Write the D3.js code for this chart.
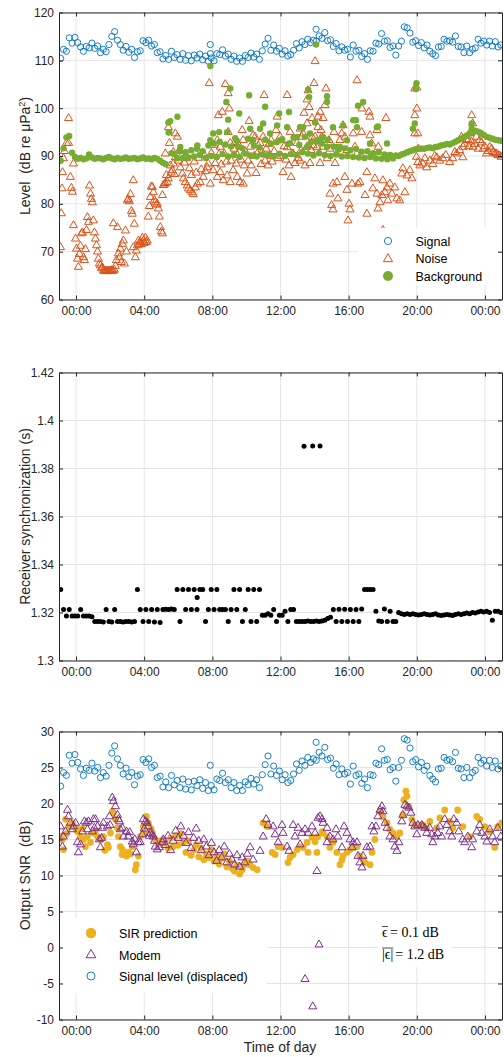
<!DOCTYPE html>
<html><head><meta charset="utf-8">
<script src="https://cdn.jsdelivr.net/npm/d3@7"></script>
<style>
body{margin:0;background:#fff;}
</style>
</head><body>
<svg id="c" width="504" height="1057"></svg>
<script>
// ---------------- DATA ----------------
const timeTicks = [0, 4, 8, 12, 16, 20, 24];
const timeLabels = ["00:00", "04:00", "08:00", "12:00", "16:00", "20:00", "00:00"];
const levelTicks = [60, 70, 80, 90, 100, 110, 120];
const syncTicks = [1.3, 1.32, 1.34, 1.36, 1.38, 1.4, 1.42];
const syncTickLabels = ["1.3", "1.32", "1.34", "1.36", "1.38", "1.4", "1.42"];
const snrTicks = [-10, -5, 0, 5, 10, 15, 20, 25, 30];

// regular sampling grid (hours relative to midnight), every 10 min
const sampleStart = -0.9, sampleStep = 1 / 6, sampleCount = 156;

// Signal level (dB re uPa^2)
const signal = [
110.4,112.3,111.9,114.7,113.6,114.8,113.7,112.8,111.9,112.9,
112.6,113.6,112.5,113.0,111.6,112.3,111.8,113.3,115.0,116.0,
114.2,113.3,112.1,112.9,111.7,112.3,110.6,111.8,112.0,114.1,
113.7,114.2,113.0,113.3,111.6,111.8,110.3,111.0,110.2,111.9,
110.6,111.2,110.2,111.4,110.0,111.0,109.9,111.1,110.5,111.3,
110.1,110.9,109.8,110.5,109.9,111.4,111.2,112.2,110.9,111.3,
110.2,110.9,109.8,110.5,109.8,111.0,110.6,111.5,110.7,111.3,
110.2,112.0,113.4,114.6,112.1,113.2,111.9,112.5,111.3,112.0,
110.9,111.2,112.1,113.5,112.6,113.9,113.3,114.4,113.7,114.2,
114.0,115.1,114.6,115.8,114.1,114.3,112.9,113.5,112.0,112.8,
112.1,112.3,110.7,113.2,111.9,112.1,110.8,111.4,110.2,112.0,
111.9,113.6,113.4,115.6,114.0,114.1,112.7,113.0,111.1,113.0,
114.0,117.0,116.8,115.7,113.8,114.1,113.1,113.7,112.6,113.2,
111.9,111.4,111.0,112.8,112.9,114.4,114.0,114.1,113.8,115.1,
112.9,112.8,111.6,113.0,111.6,112.3,112.6,114.4,113.6,114.0,
113.2,114.0,113.0,113.9,112.8,113.2];
const signalExtra = [[7.88,113.3],[7.88,111.4],[14.09,116.5]];

// Background level
const background = [
89.0,91.6,93.9,94.2,90.7,89.8,89.4,89.6,89.3,89.5,
90.3,89.7,89.4,89.6,89.5,89.3,89.6,89.8,89.5,89.3,
89.6,89.4,89.5,89.7,89.4,89.5,89.6,89.3,89.5,89.7,
89.4,89.5,89.3,89.6,89.4,89.0,88.6,88.3,94.9,90.6,
90.4,89.5,91.0,89.6,90.8,89.7,91.2,89.9,91.5,90.2,
91.0,89.6,92.2,90.0,92.6,89.8,93.0,90.4,92.4,89.9,
92.0,90.3,93.2,89.8,91.6,90.5,93.6,90.1,92.2,89.9,
91.8,90.3,93.4,90.2,92.6,89.9,92.9,90.5,93.5,90.0,
92.5,90.4,93.8,90.2,92.3,90.8,94.0,90.5,92.8,90.1,
93.0,90.6,92.6,90.2,93.4,90.0,92.0,90.3,91.4,89.9,
91.6,90.0,91.2,89.8,91.5,89.7,90.9,89.6,91.0,89.8,
90.6,89.5,90.8,89.4,90.3,89.3,90.2,89.5,90.1,90.0,
90.3,90.5,90.8,91.0,91.2,91.4,91.5,91.6,91.5,91.7,
91.8,91.6,91.9,92.0,92.2,92.3,92.5,92.4,92.7,93.0,
93.3,93.6,94.0,94.3,94.7,95.0,95.3,95.1,94.8,94.4,
94.0,93.8,93.6,93.4,93.3,93.2];
const backgroundExtra = [
[5.42,97.0],[5.53,97.3],[5.95,98.2],[5.48,95.0],[6.12,91.9],[7.12,92.2],[7.88,108.8],[7.88,93.3],
[8.05,94.7],[8.40,95.0],[8.82,101.3],[8.87,95.0],[8.93,97.6],[9.05,104.1],[9.34,93.7],[9.52,91.9],
[9.58,98.9],[10.16,102.7],[10.22,95.7],[10.39,93.3],[10.80,95.7],[10.98,96.8],[11.10,100.3],[11.39,94.7],
[11.80,96.4],[11.92,98.9],[11.98,93.3],[12.39,96.0],[12.50,99.2],[12.56,92.7],[12.97,94.0],[13.15,96.0],
[13.33,96.0],[13.56,91.9],[13.62,103.9],[13.68,102.3],[13.73,94.7],[14.03,97.0],[14.09,113.3],[14.14,93.3],
[14.32,93.3],[14.50,94.0],[14.73,102.5],[14.73,101.3],[14.73,91.9],[15.08,96.0],[15.31,91.9],[15.49,91.9],
[15.67,96.4],[15.90,93.3],[16.27,97.5],[16.43,97.5],[16.49,96.0],[16.55,100.5],[16.85,101.3],[17.25,92.6],
[17.66,96.0],[17.72,96.2],[18.25,92.6],[19.77,95.7],[19.88,96.8],[19.95,104.0],[19.98,105.2],[23.22,96.8],[23.22,95.7]];

// Noise level [hour, dB]
const noise = [
[-0.91,70.9],[-0.87,78.0],[-0.82,83.2],[-0.79,86.6],[-0.74,89.5],[-0.68,91.0],[-0.56,92.7],[-0.44,97.9],[-0.44,92.7],[-0.33,85.6],
[-0.27,83.3],[-0.21,82.5],[-0.15,88.4],[-0.15,75.5],[-0.03,72.7],[0.03,70.6],[0.08,68.5],[0.14,66.8],[0.20,69.5],[0.26,71.2],
[0.32,73.8],[0.38,74.0],[0.44,68.8],[0.49,68.2],[0.55,70.5],[0.61,74.5],[0.67,77.2],[0.73,76.2],[0.79,83.8],[0.85,82.1],
[0.90,81.0],[0.96,80.3],[1.02,76.5],[1.08,74.0],[1.14,72.7],[1.20,71.3],[1.26,70.0],[1.31,68.5],[1.37,67.5],[1.43,67.1],
[1.49,66.5],[1.55,66.7],[1.61,66.0],[1.67,66.0],[1.72,65.9],[1.78,66.0],[1.84,66.0],[1.90,65.9],[1.96,66.0],[2.02,66.0],
[2.08,66.1],[2.13,66.0],[2.19,75.9],[2.19,66.0],[2.25,66.2],[2.31,67.0],[2.37,68.2],[2.43,75.1],[2.49,69.6],[2.55,68.8],
[2.60,70.6],[2.66,67.8],[2.72,71.6],[2.78,72.3],[2.84,67.5],[2.90,74.4],[2.96,70.0],[3.01,80.7],[3.07,81.0],[3.13,80.5],
[3.19,82.0],[3.25,78.5],[3.30,77.9],[3.36,84.9],[3.36,70.9],[3.42,75.8],[3.48,68.8],[3.54,70.2],[3.60,71.3],[3.66,72.3],
[3.72,71.6],[3.77,72.0],[3.83,71.5],[3.89,72.9],[3.95,72.3],[4.01,71.8],[4.07,72.9],[4.13,72.0],[4.18,72.3],[4.24,77.3],
[4.30,79.5],[4.36,81.4],[4.42,83.6],[4.48,83.5],[4.54,82.4],[4.60,80.8],[4.65,80.3],[4.71,79.8],[4.77,80.0],[4.83,79.0],
[4.89,77.3],[4.95,75.1],[5.01,74.2],[5.07,73.8],[5.07,81.8],[5.12,83.9],
[5.18,84.0],[5.24,84.3],[5.24,90.5],[5.30,86.0],[5.36,84.5],[5.42,85.3],[5.42,96.0],[5.48,92.7],[5.53,88.0],[5.59,86.5],
[5.65,87.0],[5.71,88.4],[5.71,90.8],[5.77,86.2],[5.83,89.7],[5.83,94.7],[5.95,94.0],[6.00,89.0],[6.06,91.2],[6.12,87.6],
[6.18,90.0],[6.24,86.3],[6.30,85.3],[6.36,88.6],[6.41,84.5],[6.47,89.5],[6.53,83.8],[6.59,83.2],[6.65,87.4],[6.71,82.8],
[6.77,86.0],[6.82,82.4],[6.88,82.0],[6.94,88.8],[7.00,83.4],[7.06,86.5],[7.12,84.2],[7.18,89.6],[7.29,84.5],[7.35,87.2],
[7.47,85.6],[7.53,90.2],[7.59,86.8],[7.70,87.6],[7.76,88.4],[7.82,105.2],[7.88,84.2],[7.94,90.6],[8.05,87.0],[8.11,92.3],
[8.17,88.5],[8.29,85.6],[8.29,93.3],[8.35,98.5],[8.40,90.4],[8.46,86.6],[8.46,91.9],[8.52,88.2],[8.58,99.2],[8.64,84.9],
[8.70,90.5],[8.76,105.0],[8.82,88.8],[8.87,85.9],[8.93,103.1],[8.93,95.0],[8.99,99.9],[9.05,84.5],[9.05,92.7],[9.11,89.0],
[9.22,87.0],[9.28,91.5],[9.34,92.9],[9.40,88.4],[9.46,85.6],[9.46,90.2],[9.52,92.5],[9.63,84.5],[9.69,89.2],[9.75,95.4],
[9.81,84.2],[9.81,93.3],[9.87,88.0],[9.93,91.0],[10.04,86.3],[10.10,89.0],
[10.16,97.3],[10.22,91.9],[10.28,88.0],[10.39,94.3],[10.45,90.0],[10.51,94.0],[10.57,86.4],[10.63,90.5],[10.69,92.2],[10.80,92.7],
[10.86,88.3],[10.92,90.8],[10.98,94.0],[11.04,102.7],[11.10,89.0],[11.16,91.5],[11.27,88.0],[11.33,92.5],[11.39,90.0],[11.45,93.3],
[11.51,88.8],[11.63,91.0],[11.74,95.4],[11.80,98.2],[11.86,89.5],[11.98,94.0],[12.04,90.0],[12.15,86.6],[12.21,92.0],[12.33,89.2],
[12.39,102.7],[12.39,91.8],[12.50,88.0],[12.56,95.0],[12.62,85.6],[12.68,90.5],[12.74,90.5],[12.85,88.5],[12.97,92.7],[13.03,89.5],
[13.15,95.7],[13.15,89.0],[13.21,91.2],[13.25,94.0],[13.33,94.7],[13.38,99.0],[13.44,88.0],[13.54,91.9],[13.56,96.8],[13.56,101.8],
[13.62,103.7],[13.68,100.2],[13.73,88.5],[13.79,91.2],[13.85,97.9],[13.85,94.0],[13.93,92.2],[13.97,105.2],[14.03,109.8],[14.03,94.0],
[14.14,91.8],[14.20,96.0],[14.20,98.2],[14.32,99.2],[14.32,88.5],[14.38,95.4],[14.42,94.0],[14.50,97.9],[14.51,91.9],[14.56,92.7],
[14.61,100.6],[14.67,104.1],[14.73,89.5],[14.85,93.3],[14.90,91.5],
[14.90,82.1],[15.00,79.7],[15.08,78.8],[15.08,84.2],[15.14,95.0],[15.20,88.5],[15.29,90.5],[15.31,84.5],[15.37,81.1],[15.49,93.3],
[15.59,94.7],[15.67,96.4],[15.78,85.6],[15.78,94.0],[15.90,82.9],[15.90,91.2],[15.96,76.5],[16.02,80.0],[16.08,78.8],[16.20,84.2],
[16.27,94.7],[16.37,91.9],[16.47,90.4],[16.49,105.8],[16.55,84.2],[16.66,84.5],[16.76,95.0],[16.78,99.9],[16.96,81.8],[17.07,77.9],
[17.07,86.6],[17.19,99.2],[17.25,98.2],[17.25,94.3],[17.35,92.6],[17.42,83.2],[17.54,85.3],[17.66,82.1],[17.66,95.4],[17.72,79.0],
[17.74,91.9],[17.84,80.3],[17.95,81.8],[18.01,84.9],[18.01,74.5],[18.13,82.4],[18.19,97.9],[18.23,89.8],[18.25,83.4],[18.30,80.7],
[18.42,84.2],[18.54,82.1],[18.71,83.4],[18.83,81.1],[19.00,80.7],[19.12,86.3],[19.18,87.4],[19.30,82.4],[19.42,85.9],[19.59,87.0],
[19.71,85.3],[19.88,104.1],[19.88,98.5],[19.88,94.7],[19.98,89.8],[20.00,104.3],[20.00,99.9],[20.06,94.7],[20.08,91.5],
[20.06,88.7],[20.18,88.0],[20.35,88.4],[20.47,89.5],[20.58,87.6],[20.76,89.0],[20.94,88.3],[21.05,90.0],[21.17,89.7],[21.35,89.0],
[21.52,89.5],[21.70,90.2],[21.93,88.7],[22.11,89.5],[22.23,90.8],[22.34,90.5],[22.52,91.2],[22.62,94.0],[22.70,89.7],[22.72,91.9],
[22.80,92.5],[22.90,93.5],[23.01,93.3],[23.05,92.0],[23.11,94.7],[23.20,93.0],[23.22,98.5],[23.28,96.8],[23.30,91.9],[23.40,92.5],
[23.50,94.0],[23.60,91.5],[23.69,93.3],[23.80,92.8],[23.89,91.5],[23.99,92.0],[24.08,90.5],[24.20,91.0],[24.28,91.9],[24.40,91.5],
[24.47,90.8],[24.60,90.5],[24.69,90.5],[24.75,90.2],[24.86,90.1],[24.95,89.8]];

// Receiver synchronization (s)
const sync = [
1.3296,1.3212,1.3185,1.3212,1.3185,1.3185,1.3185,1.3212,1.3185,1.3185,
1.3185,1.3182,1.3162,1.3162,1.3162,1.3160,1.3212,1.3162,1.3160,1.3212,
1.3162,1.3162,1.3160,1.3162,1.3162,1.3160,1.3162,1.3296,1.3212,1.3162,
1.3212,1.3162,1.3212,1.3160,1.3212,1.3158,1.3212,1.3214,1.3212,1.3215,
1.3212,1.3296,1.3162,1.3296,1.3212,1.3296,1.3212,1.3296,1.3212,1.3296,
1.3296,1.3162,1.3212,1.3296,1.3212,1.3296,1.3212,1.3212,1.3212,1.3162,
1.3212,1.3296,1.3212,1.3296,1.3162,1.3212,1.3296,1.3162,1.3296,1.3162,
1.3296,1.3189,1.3189,1.3195,1.3189,1.3212,1.3162,1.3189,1.3189,1.3205,
1.3162,1.3212,1.3212,1.3162,1.3162,1.3162,1.3162,1.3165,1.3162,1.3162,
1.3165,1.3162,1.3165,1.3168,1.3175,1.3180,1.3212,1.3162,1.3214,1.3162,
1.3214,1.3162,1.3212,1.3162,1.3212,1.3162,1.3215,1.3296,1.3296,1.3296,
1.3296,1.3205,1.3165,1.3162,1.3215,1.3162,1.3205,1.3162,1.3162,1.3200,
1.3195,1.3192,1.3195,1.3192,1.3195,1.3192,1.3190,1.3192,1.3195,1.3192,
1.3190,1.3192,1.3195,1.3190,1.3188,1.3190,1.3192,1.3190,1.3188,1.3192,
1.3195,1.3192,1.3195,1.3198,1.3195,1.3200,1.3198,1.3202,1.3205,1.3202,
1.3205,1.3200,1.3168,1.3205,1.3205,1.3200];
const syncExtra = [[13.38,1.3893],[13.89,1.3894],[14.32,1.3894],[7.11,1.3262]];

// Output SNR: signal level displaced (dB)
const signalDisplaced = [
22.4,24.3,23.9,26.7,25.6,26.8,25.7,24.8,23.9,24.9,
24.6,25.6,24.5,25.0,23.6,24.3,23.8,25.3,27.0,28.0,
26.2,25.3,24.1,24.9,23.7,24.3,22.6,23.8,24.0,26.1,
25.7,26.2,25.0,25.3,23.6,23.8,22.3,23.0,22.2,23.9,
22.6,23.2,22.2,23.4,22.0,23.0,21.9,23.1,22.5,23.3,
22.1,22.9,21.8,22.5,21.9,23.4,23.2,24.2,22.9,23.3,
22.2,22.9,21.8,22.5,21.8,23.0,22.6,23.5,22.7,23.3,
22.2,24.0,25.4,26.6,24.1,25.2,23.9,24.5,23.3,24.0,
22.9,23.2,24.1,25.5,24.6,25.9,25.3,26.4,25.7,26.2,
26.0,27.1,26.6,27.8,26.1,26.3,24.9,25.5,24.0,24.8,
24.1,24.3,22.7,25.2,23.9,24.1,22.8,23.4,22.2,24.0,
23.9,25.6,25.4,27.6,26.0,26.1,24.7,25.0,23.1,25.0,
26.0,29.0,28.8,27.7,25.8,26.1,25.1,25.7,24.6,25.2,
23.9,23.4,23.0,24.8,24.9,26.4,26.0,26.1,25.8,27.1,
24.9,24.8,23.6,25.0,23.6,24.3,24.6,26.4,25.6,26.0,
25.2,26.0,25.0,25.9,24.8,25.2];
const signalDisplacedExtra = [[7.88,25.3],[14.09,28.5]];

// SIR prediction [hour, dB]
const sir = [
[-0.97,15.4],[-0.80,15.0],[-0.74,13.6],[-0.62,17.8],[-0.55,15.8],[-0.44,16.8],[-0.21,17.3],[-0.03,16.6],[0.08,16.1],[0.26,15.4],
[0.35,16.5],[0.44,15.0],[0.55,14.0],[0.67,15.4],[0.85,14.6],[1.02,15.9],[1.15,16.2],[1.26,15.4],[1.43,15.0],[1.61,15.4],
[1.70,13.5],[1.84,14.3],[1.90,13.9],[2.02,15.9],[2.13,18.9],[2.19,18.7],[2.31,17.8],[2.43,16.6],[2.49,15.4],[2.60,14.0],
[2.70,12.9],[2.72,13.6],[2.84,13.2],[2.96,12.7],[3.07,13.2],[3.20,13.0],[3.30,14.0],[3.48,10.8],[3.54,11.5],[3.66,12.7],
[3.77,15.4],[3.95,16.8],[4.00,15.8],[4.13,18.2],[4.24,17.3],[4.40,16.5],[4.48,15.9],[4.65,15.0],[4.83,14.3],[4.95,14.8],
[5.12,15.0],
[5.25,14.5],[5.40,13.8],[5.55,15.2],[5.70,14.0],[5.85,15.5],[6.00,14.2],[6.15,15.8],[6.30,14.6],[6.45,13.2],[6.60,14.8],
[6.75,12.8],[6.90,13.5],[7.05,14.2],[7.20,12.6],[7.35,13.8],[7.50,12.2],[7.65,13.0],[7.80,12.5],[7.95,13.6],[8.10,12.0],
[8.25,12.8],[8.40,11.6],[8.55,12.4],[8.70,13.0],[8.85,11.2],[9.00,12.0],[9.15,11.0],[9.30,10.6],[9.45,11.4],[9.60,10.2],
[9.75,10.8],[9.90,11.5],[10.05,12.0],[10.20,11.5],
[10.39,11.1],[10.63,10.8],[10.98,17.3],[11.21,16.8],[11.51,13.2],[11.68,12.9],[11.86,14.0],[12.09,13.9],[12.44,11.8],[12.56,12.5],
[12.74,12.9],[12.97,13.6],[13.15,14.0],[13.33,13.9],[13.56,14.6],[13.62,13.2],[13.85,15.3],[14.03,14.7],[14.14,13.2],[14.20,15.4],
[14.44,16.1],[14.50,15.9],[14.73,15.4],[14.90,13.9],[15.08,14.6],[15.31,13.2],[15.49,11.5],[15.61,12.2],[15.67,12.7],[15.90,13.2],
[16.08,13.6],[16.26,13.9],[16.49,14.0],[16.66,12.7],[16.84,12.2],[16.96,11.8],[17.25,11.5],[17.37,13.2],[17.54,15.0],[17.84,18.9],
[18.01,18.2],[18.25,17.3],[18.42,16.4],[18.60,15.9],[18.83,15.4],[19.00,15.9],[19.18,18.4],[19.24,20.5],[19.36,21.7],[19.42,21.0],
[19.53,19.6],[19.71,17.8],[19.88,17.0],[20.18,17.0],[20.35,17.0],[20.58,16.6],[20.76,17.5],[21.17,16.6],[21.35,18.0],[21.64,19.1],
[21.93,17.5],[22.11,16.6],[22.40,19.1],[22.70,16.8],[23.11,15.4],[23.52,18.2],[23.69,17.8],[23.99,16.8],[24.28,16.1],[24.57,13.9],
[24.75,16.8],[24.98,17.3]];

// Modem output SNR [hour, dB]
const modem = [
[-0.91,16.8],[-0.80,14.0],[-0.74,15.4],[-0.62,16.1],[-0.50,19.1],[-0.44,18.2],[-0.33,17.3],[-0.21,16.4],[-0.15,16.8],[-0.03,17.3],
[0.08,14.6],[0.14,13.2],[0.26,14.3],[0.38,16.1],[0.49,17.5],[0.61,17.3],[0.67,16.4],[0.73,17.5],[0.96,16.1],[1.02,17.8],
[1.08,16.6],[1.14,17.8],[1.26,16.8],[1.37,15.0],[1.43,13.9],[1.50,15.2],[1.55,16.6],[1.61,17.3],[1.84,16.8],[1.96,18.2],
[2.00,17.0],[2.13,20.8],[2.19,20.3],[2.31,19.6],[2.43,18.4],[2.49,17.8],[2.55,17.5],[2.60,16.4],[2.72,16.6],[2.78,15.4],
[2.96,16.1],[3.07,15.4],[3.15,16.0],[3.30,14.7],[3.36,14.3],[3.45,15.0],[3.54,13.2],[3.66,14.6],[3.77,14.6],[3.89,15.7],
[3.95,17.8],[4.00,16.5],[4.07,17.5],[4.18,17.3],[4.24,16.8],[4.30,15.5],[4.36,15.9],[4.48,15.7],[4.54,15.4],[4.60,14.8],
[4.65,14.0],[4.77,13.6],[4.89,13.9],[5.07,14.6],[5.12,15.0],
[5.25,14.2],[5.40,15.5],[5.55,13.5],[5.70,14.8],[5.85,16.2],[6.00,15.2],[6.15,16.8],[6.30,15.5],[6.45,14.5],[6.60,16.0],
[6.75,13.8],[6.90,15.2],[7.05,16.5],[7.20,14.8],[7.35,13.5],[7.50,15.0],[7.65,14.0],[7.80,12.8],[7.95,14.5],[8.10,13.2],
[8.25,12.0],[8.40,13.5],[8.55,12.5],[8.70,14.0],[8.85,11.8],[9.00,13.0],[9.15,12.2],[9.30,11.5],[9.45,12.8],[9.60,11.2],
[9.75,12.5],[9.90,11.8],[10.05,13.0],
[10.22,13.9],[10.39,12.2],[10.80,13.4],[10.98,15.4],[11.16,17.8],[11.27,17.0],[11.57,16.8],[11.68,15.7],[11.86,14.6],[12.09,17.0],
[12.15,15.9],[12.39,14.0],[12.50,13.4],[12.74,17.0],[12.85,15.4],[13.03,16.6],[13.15,14.3],[13.26,15.9],[13.44,16.4],[13.62,15.9],
[13.85,16.8],[14.03,15.9],[14.14,10.6],[14.20,18.0],[14.32,18.2],[14.44,17.8],[14.50,17.3],[14.73,16.6],[14.73,14.6],[14.90,15.4],
[15.08,15.0],[15.26,16.4],[15.37,15.4],[15.61,13.9],[15.73,16.8],[15.90,15.9],[16.08,15.0],[16.20,13.9],[16.26,14.6],[16.49,14.6],
[16.55,12.7],[16.66,11.8],[16.78,11.1],[16.84,12.7],[17.07,13.9],[17.25,14.0],[17.37,16.8],[17.48,16.1],[17.60,16.8],[17.72,18.2],
[17.84,19.1],[17.95,19.6],[18.01,18.9],[18.13,17.3],[18.25,16.6],[18.42,15.4],[18.60,15.0],[18.71,14.0],[18.83,13.4],[18.95,14.6],
[19.12,17.5],[19.18,18.4],[19.30,19.8],[19.42,19.6],[19.53,19.4],[19.65,18.7],[19.77,17.3],[19.88,16.8],[20.00,15.7],[20.06,17.0],
[20.29,17.0],[20.35,16.8],[20.47,16.6],[20.58,15.9],[20.76,16.6],[20.88,15.7],[20.94,14.6],[21.06,15.4],[21.23,15.9],[21.35,16.8],
[21.46,15.4],[21.64,17.8],[21.76,17.0],[21.93,16.1],[22.05,15.4],[22.17,17.8],[22.34,17.3],[22.46,16.1],[22.70,15.0],[22.81,14.6],
[22.99,15.4],[23.22,13.9],[23.28,15.0],[23.52,16.1],[23.69,17.0],[23.81,15.9],[23.99,15.4],[24.11,14.7],[24.28,16.4],[24.45,15.4],
[24.57,14.6],[24.75,16.6],[24.93,15.4],
[13.44,-4.4],[13.89,-8.2],[14.26,0.4]];

// ---------------- DRAWING ----------------
const FONT = '"Liberation Sans", Arial, Helvetica, sans-serif';
const SERIF = '"Liberation Serif", "Times New Roman", "DejaVu Serif", serif';
const C = {blue:"#0072BD", orange:"#D95319", green:"#77AC30", yellow:"#EDB120", purple:"#7E2F8E", axis:"#262626", grid:"#e5e5e5"};
const svg = d3.select("#c").style("font-family", FONT);
const xScale = d3.scaleLinear().domain([-1, 25]).range([59, 502]);
const gridTimes = d3.range(sampleCount).map(i => sampleStart + i * sampleStep);
const triangle = d3.symbol().type(d3.symbolTriangle).size(28);
let clipN = 0;

function makePanel(top, bottom, domain, yTicks, yFmt) {
  const y = d3.scaleLinear().domain(domain).range([bottom, top]);
  const [x0, x1] = xScale.range();
  const g = svg.append("g");
  const grid = g.append("g").attr("stroke", C.grid).attr("stroke-width", 1);
  grid.selectAll(null).data(timeTicks).join("line")
    .attr("x1", d => xScale(d)).attr("x2", d => xScale(d)).attr("y1", top).attr("y2", bottom);
  grid.selectAll(null).data(yTicks).join("line")
    .attr("x1", x0).attr("x2", x1).attr("y1", d => y(d)).attr("y2", d => y(d));
  const id = "clip" + (++clipN);
  svg.append("clipPath").attr("id", id).append("rect")
    .attr("x", x0).attr("y", top).attr("width", x1 - x0).attr("height", bottom - top);
  const data = g.append("g").attr("clip-path", `url(#${id})`);
  const over = g.append("g");
  const axes = g.append("g");
  const styleAxis = sel => {
    sel.attr("font-family", FONT).attr("font-size", 12);
    sel.selectAll(".domain").attr("stroke", C.axis);
    sel.selectAll(".tick line").attr("stroke", C.axis);
    sel.selectAll(".tick text").attr("fill", C.axis);
  };
  axes.append("g").attr("transform", `translate(0,${bottom})`)
    .call(d3.axisBottom(xScale).tickValues(timeTicks).tickFormat((d, i) => timeLabels[i]).tickSizeInner(-4).tickSizeOuter(0).tickPadding(7))
    .call(styleAxis);
  axes.append("g").attr("transform", `translate(0,${top})`)
    .call(d3.axisTop(xScale).tickValues(timeTicks).tickFormat("").tickSizeInner(-4).tickSizeOuter(0))
    .call(styleAxis);
  axes.append("g").attr("transform", `translate(${x0},0)`)
    .call(d3.axisLeft(y).tickValues(yTicks).tickFormat(yFmt).tickSizeInner(-4).tickSizeOuter(0).tickPadding(5))
    .call(styleAxis);
  axes.append("g").attr("transform", `translate(${x1},0)`)
    .call(d3.axisRight(y).tickValues(yTicks).tickFormat("").tickSizeInner(-4).tickSizeOuter(0))
    .call(styleAxis);
  return {y, data, over, top, bottom};
}

function yTitle(p, parts) {
  const t = svg.append("text")
    .attr("transform", `translate(30,${(p.top + p.bottom) / 2}) rotate(-90)`)
    .attr("text-anchor", "middle")
    .attr("font-size", 14).attr("fill", C.axis).style("white-space", "pre");
  parts(t);
}

function circles(sel, pts, y, r, fill, stroke, sw) {
  sel.append("g").selectAll(null).data(pts).join("circle")
    .attr("cx", d => xScale(d[0])).attr("cy", d => y(d[1])).attr("r", r)
    .attr("fill", fill).attr("stroke", stroke).attr("stroke-width", sw);
}
function triangles(sel, pts, y, color) {
  sel.append("g").selectAll(null).data(pts).join("path")
    .attr("d", triangle).attr("transform", d => `translate(${xScale(d[0])},${y(d[1])})`)
    .attr("fill", "none").attr("stroke", color).attr("stroke-width", 1);
}
const onGrid = arr => arr.map((v, i) => [gridTimes[i], v]);

// ---- Panel 1 ----
const p1 = makePanel(12.5, 299.5, [60, 120], levelTicks, d => String(d));
circles(p1.data, onGrid(signal).concat(signalExtra), p1.y, 3.1, "none", C.blue, 0.9);
triangles(p1.data, noise, p1.y, C.orange);
circles(p1.data, onGrid(background).concat(backgroundExtra), p1.y, 3.2, C.green, "none", 0);
yTitle(p1, t => {
  t.append("tspan").text("Level  (dB re μPa");
  t.append("tspan").attr("dy", -5).attr("font-size", 9).text("2");
  t.append("tspan").attr("dy", 5).text(")");
});
{
  const L = p1.over.append("g");
  L.append("rect").attr("x", 358).attr("y", 228).attr("width", 141).attr("height", 57).attr("fill", "#fff");
  const rows = [{name:"Signal", y:241}, {name:"Noise", y:258.5}, {name:"Background", y:276}];
  L.append("circle").attr("cx", 388).attr("cy", 241).attr("r", 3.6).attr("fill", "none").attr("stroke", C.blue).attr("stroke-width", 0.9);
  L.append("path").attr("d", d3.symbol().type(d3.symbolTriangle).size(36)).attr("transform", "translate(388,259)").attr("fill", "none").attr("stroke", C.orange).attr("stroke-width", 1);
  L.append("circle").attr("cx", 388).attr("cy", 276).attr("r", 5).attr("fill", C.green);
  L.selectAll(null).data(rows).join("text").attr("x", 415.5).attr("y", d => d.y + 4.5)
    .attr("font-size", 12.5).attr("fill", "#000").text(d => d.name);
}

// ---- Panel 2 ----
const p2 = makePanel(372.5, 660.5, [1.3, 1.42], syncTicks, (d, i) => syncTickLabels[i]);
circles(p2.data, onGrid(sync).concat(syncExtra), p2.y, 2.5, "#000", "none", 0);
yTitle(p2, t => t.text("Receiver synchronization (s)"));

// ---- Panel 3 ----
const p3 = makePanel(731.5, 1019.5, [-10, 30], snrTicks, d => String(d));
circles(p3.data, sir, p3.y, 3.4, C.yellow, "none", 0);
triangles(p3.data, modem, p3.y, C.purple);
circles(p3.data, onGrid(signalDisplaced).concat(signalDisplacedExtra), p3.y, 3.1, "none", C.blue, 0.9);
yTitle(p3, t => t.text("Output SNR  (dB)"));
{
  const L = p3.over.append("g");
  L.append("rect").attr("x", 62).attr("y", 918).attr("width", 205).attr("height", 75).attr("fill", "#fff");
  L.append("circle").attr("cx", 91).attr("cy", 933).attr("r", 5.2).attr("fill", C.yellow);
  L.append("path").attr("d", d3.symbol().type(d3.symbolTriangle).size(40)).attr("transform", "translate(91,955)").attr("fill", "none").attr("stroke", C.purple).attr("stroke-width", 1);
  L.append("circle").attr("cx", 91).attr("cy", 976).attr("r", 4).attr("fill", "none").attr("stroke", C.blue).attr("stroke-width", 0.9);
  const rows = [{name:"SIR prediction", y:933}, {name:"Modem", y:955}, {name:"Signal level (displaced)", y:976}];
  L.selectAll(null).data(rows).join("text").attr("x", 119).attr("y", d => d.y + 4.5)
    .attr("font-size", 12.5).attr("fill", "#000").text(d => d.name);

  // annotation
  const A = p3.over.append("g");
  A.append("rect").attr("x", 378).attr("y", 921).attr("width", 74).attr("height", 46).attr("fill", "#fff");
  const line = (y, lhs, rhs) => {
    const l = A.append("text").attr("x", 382).attr("y", y).attr("font-family", SERIF).attr("font-size", 14).attr("fill", "#000").text(lhs);
    const bb = l.node().getBBox();
    A.append("line").attr("x1", bb.x).attr("x2", bb.x + bb.width).attr("y1", y - 10.5).attr("y2", y - 10.5).attr("stroke", "#000").attr("stroke-width", 0.7);
    A.append("text").attr("x", bb.x + bb.width + 2).attr("y", y).attr("font-family", SERIF).attr("font-size", 14).attr("fill", "#000").style("white-space", "pre").text("= " + rhs);
  };
  line(937, "ϵ", "0.1 dB");
  line(958.5, "|ϵ|", "1.2 dB");
}
svg.append("text").attr("x", 280).attr("y", 1052).attr("text-anchor", "middle")
  .attr("font-size", 14).attr("fill", C.axis).text("Time of day");
</script>
</body></html>
